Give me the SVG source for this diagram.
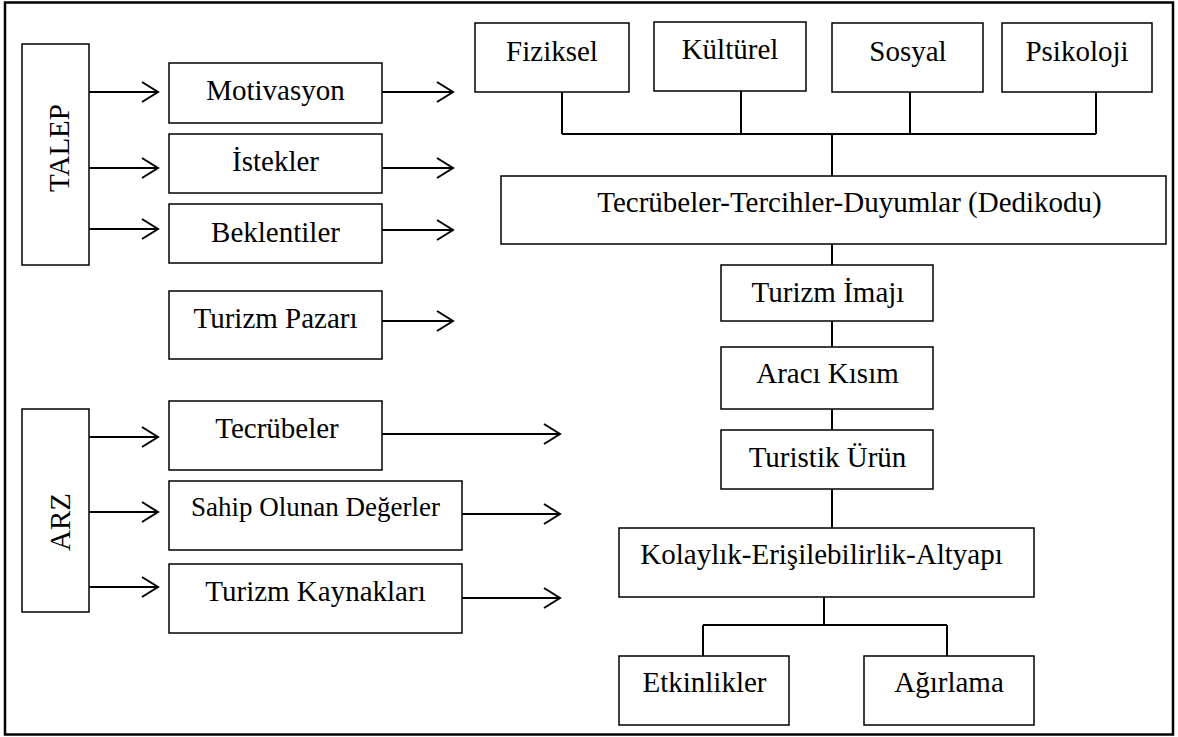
<svg xmlns="http://www.w3.org/2000/svg" width="1178" height="737" viewBox="0 0 1178 737">
<style>
.box{fill:#fff;stroke:#000;stroke-width:1.5}
.t{font-family:'Liberation Serif','DejaVu Serif',serif;font-size:29px;fill:#000;text-anchor:middle}
.s{font-size:27px}
.c{fill:none;stroke:#000;stroke-width:2}
.a{fill:none;stroke:#000;stroke-width:2;marker-end:url(#ah)}
</style>
<defs>
<marker id="ah" markerUnits="userSpaceOnUse" markerWidth="20" markerHeight="24" refX="17" refY="11" orient="auto">
<path d="M1,1 L17,11 L1,21" fill="none" stroke="#000" stroke-width="2"/>
</marker>
</defs>
<rect x="5" y="2.5" width="1168" height="732" fill="#fff" stroke="#000" stroke-width="2.5"/>
<g id="connectors">
<line class="a" x1="89" y1="92" x2="158" y2="92"/>
<line class="a" x1="89" y1="168" x2="158" y2="168"/>
<line class="a" x1="89" y1="229" x2="158" y2="229"/>
<line class="a" x1="382" y1="92" x2="453" y2="92"/>
<line class="a" x1="382" y1="168" x2="453" y2="168"/>
<line class="a" x1="382" y1="230" x2="453" y2="230"/>
<line class="a" x1="382" y1="321" x2="453" y2="321"/>
<line class="a" x1="89" y1="437" x2="158" y2="437"/>
<line class="a" x1="89" y1="512" x2="158" y2="512"/>
<line class="a" x1="89" y1="587" x2="158" y2="587"/>
<line class="a" x1="382" y1="434" x2="560" y2="434"/>
<line class="a" x1="462" y1="514" x2="560" y2="514"/>
<line class="a" x1="462" y1="598" x2="560" y2="598"/>
<path class="c" d="M562,92 V134 M741,91 V134 M910,92 V134 M1096,92 V134 M562,134 H1096 M832,134 V176"/>
<path class="c" d="M832,244 V265 M832,321 V347 M832,409 V430 M832,489 V528"/>
<path class="c" d="M824,597 V625 M703,625 H947 M703,625 V656 M947,625 V656"/>
</g>
<g id="talep"><rect class="box" x="22" y="44" width="67" height="221"/><text class="t" transform="translate(69,148) rotate(-90)">TALEP</text></g>
<g id="motivasyon"><rect class="box" x="169" y="63" width="213" height="60"/><text class="t" x="275.5" y="100">Motivasyon</text></g>
<g id="istekler"><rect class="box" x="169" y="134" width="213" height="59"/><text class="t" x="275.5" y="171">İstekler</text></g>
<g id="beklentiler"><rect class="box" x="169" y="204" width="213" height="59"/><text class="t" x="275.5" y="242">Beklentiler</text></g>
<g id="turizm-pazari"><rect class="box" x="169" y="291" width="213" height="68"/><text class="t" x="275.5" y="328">Turizm Pazarı</text></g>
<g id="arz"><rect class="box" x="22" y="409" width="67" height="203"/><text class="t" transform="translate(70,522) rotate(-90)">ARZ</text></g>
<g id="tecrubeler"><rect class="box" x="169" y="401" width="213" height="69"/><text class="t" x="277" y="438">Tecrübeler</text></g>
<g id="sahip"><rect class="box" x="169" y="481" width="293" height="69"/><text class="t s" x="315.5" y="516">Sahip Olunan Değerler</text></g>
<g id="kaynaklar"><rect class="box" x="169" y="564" width="293" height="69"/><text class="t" x="315.5" y="601">Turizm Kaynakları</text></g>
<g id="fiziksel"><rect class="box" x="475" y="23" width="154" height="69"/><text class="t" x="552" y="61">Fiziksel</text></g>
<g id="kulturel"><rect class="box" x="654" y="22" width="152" height="69"/><text class="t" x="730" y="59">Kültürel</text></g>
<g id="sosyal"><rect class="box" x="832" y="23" width="151" height="69"/><text class="t" x="908" y="61">Sosyal</text></g>
<g id="psikoloji"><rect class="box" x="1002" y="23" width="150" height="69"/><text class="t" x="1077" y="61">Psikoloji</text></g>
<g id="tecrubeler-tercihler"><rect class="box" x="501" y="176" width="665" height="68"/><text class="t" x="849.5" y="212">Tecrübeler-Tercihler-Duyumlar (Dedikodu)</text></g>
<g id="turizm-imaji"><rect class="box" x="721" y="265" width="212" height="56"/><text class="t" x="828" y="302">Turizm İmajı</text></g>
<g id="araci-kisim"><rect class="box" x="721" y="347" width="212" height="62"/><text class="t" x="827.5" y="383">Aracı Kısım</text></g>
<g id="turistik-urun"><rect class="box" x="721" y="430" width="212" height="59"/><text class="t" x="827.5" y="467">Turistik Ürün</text></g>
<g id="kolaylik"><rect class="box" x="619" y="528" width="415" height="69"/><text class="t" x="821.5" y="564">Kolaylık-Erişilebilirlik-Altyapı</text></g>
<g id="etkinlikler"><rect class="box" x="619" y="656" width="170" height="69"/><text class="t" x="704.5" y="692">Etkinlikler</text></g>
<g id="agirlama"><rect class="box" x="864" y="656" width="170" height="69"/><text class="t" x="949" y="692">Ağırlama</text></g>
</svg>
